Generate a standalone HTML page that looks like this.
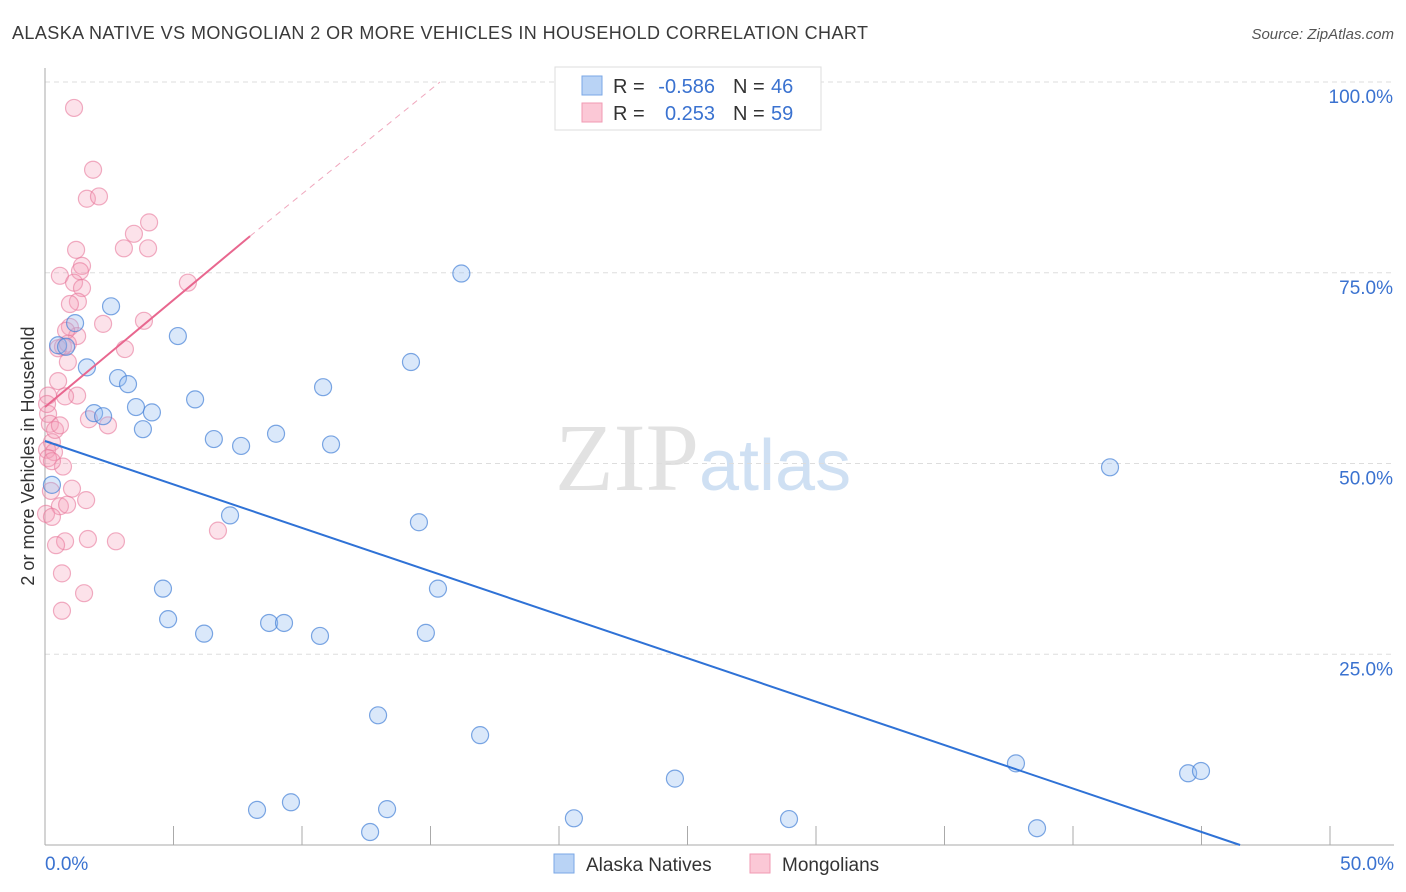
<!DOCTYPE html>
<html><head><meta charset="utf-8"><style>
body{margin:0;background:#fff;font-family:"Liberation Sans",sans-serif}
</style></head><body>
<svg id="c" width="1406" height="892" xmlns="http://www.w3.org/2000/svg" style="display:block">
<text x="12" y="39" font-size="18" fill="#3a3a3a" textLength="856">ALASKA NATIVE VS MONGOLIAN 2 OR MORE VEHICLES IN HOUSEHOLD CORRELATION CHART</text>
<text x="1394" y="39" font-size="15" fill="#555" text-anchor="end" font-style="italic">Source: ZipAtlas.com</text>
<text x="555" y="490" font-size="96" fill="#d6d6d6" font-family="Liberation Serif" opacity="0.7">ZIP<tspan fill="#bcd4ef" font-family="Liberation Sans" font-size="72">atlas</tspan></text>
<g id="grid"></g><g id="pts"></g><g id="lines"></g>
<text transform="translate(34,456) rotate(-90)" font-size="18" fill="#333" text-anchor="middle">2 or more Vehicles in Household</text>
<g>
<rect x="555" y="67" width="266" height="63" fill="#fff" stroke="#ddd"/>
<rect x="582" y="76" width="20" height="19" fill="#b9d3f5" stroke="#7aa7e6"/>
<rect x="582" y="103" width="20" height="19" fill="#fbc8d6" stroke="#f09ab3"/>
<text x="613" y="93" font-size="20" fill="#333">R =</text>
<text x="715" y="93" font-size="20" fill="#3a72d0" text-anchor="end">-0.586</text>
<text x="733" y="93" font-size="20" fill="#333">N =</text>
<text x="771" y="93" font-size="20" fill="#3a72d0">46</text>
<text x="613" y="120" font-size="20" fill="#333">R =</text>
<text x="715" y="120" font-size="20" fill="#3a72d0" text-anchor="end">0.253</text>
<text x="733" y="120" font-size="20" fill="#333">N =</text>
<text x="771" y="120" font-size="20" fill="#3a72d0">59</text>
</g>
<g>
<rect x="554" y="854" width="20" height="19" fill="#b9d3f5" stroke="#7aa7e6"/>
<text x="586" y="871" font-size="19" fill="#333">Alaska Natives</text>
<rect x="750" y="854" width="20" height="19" fill="#fbc8d6" stroke="#f09ab3"/>
<text x="782" y="871" font-size="19" fill="#333">Mongolians</text>
</g>
</svg>
<script>
const xTicks=[0,5,10,15,20,25,30,35,40,45,50];
const yTicks=[25,50,75,100];
const yTickLabels=["25.0%","50.0%","75.0%","100.0%"];
const blueX=[16.2,2.57,1.17,5.17,0.51,0.82,1.63,14.24,2.84,3.23,10.82,5.84,3.54,1.91,2.26,4.16,11.13,3.81,8.99,6.57,7.63,41.44,7.2,14.55,0.27,4.59,15.29,4.79,6.19,8.72,9.3,10.7,14.82,12.96,16.93,37.78,24.51,44.48,44.98,8.25,9.57,13.31,12.65,20.58,28.95,38.6];
const blueY=[74.9,70.6,68.4,66.7,65.5,65.3,62.6,63.3,61.2,60.4,60.0,58.4,57.4,56.6,56.2,56.7,52.5,54.5,53.9,53.2,52.3,49.5,43.2,42.3,47.2,33.6,33.6,29.6,27.7,29.1,29.1,27.4,27.8,17.0,14.4,10.7,8.7,9.4,9.7,4.6,5.6,4.7,1.7,3.5,3.4,2.2];
const pinkX=[1.13,1.87,1.63,2.1,4.05,3.46,3.07,4.01,1.21,1.44,1.36,0.58,1.13,5.56,1.44,1.28,0.97,3.85,2.26,0.97,1.25,0.82,0.51,0.7,3.11,0.89,0.51,0.12,1.25,0.78,0.12,1.71,2.45,0.19,0.27,0.08,0.35,0.12,0.7,0.23,1.05,1.6,0.58,0.86,0.04,6.73,1.67,2.76,0.78,0.43,0.66,1.52,0.66,0.27,0.89,0.08,0.39,0.27,0.58];
const pinkY=[96.6,88.5,84.7,85.0,81.6,80.1,78.2,78.2,78.0,75.9,75.2,74.6,73.7,73.7,73.0,71.2,70.9,68.7,68.3,67.9,66.7,67.4,65.1,65.3,65.0,63.3,60.8,58.9,58.9,58.8,56.5,55.8,55.0,55.2,52.8,51.8,51.5,50.7,49.6,46.4,46.7,45.2,44.4,44.6,43.4,41.2,40.1,39.8,39.8,39.3,35.6,33.0,30.7,43.0,65.7,57.8,54.4,50.3,55.0];
const blueLine=[[0,52.95],[46.5,0]];
const pinkSolid=[[0,57.4],[7.98,79.8]];
const pinkDash=[[7.98,79.8],[15.37,100]];
const X=v=>45+v/50*1285, Y=v=>845-v/100*763;
const NS="http://www.w3.org/2000/svg";
function mk(tag,attrs,parent){const e=document.createElementNS(NS,tag);for(const k in attrs)e.setAttribute(k,attrs[k]);parent.appendChild(e);return e;}
const gridG=document.getElementById('grid');
yTicks.forEach((t,i)=>{
 const l=mk('line',{x1:45,x2:1394,y1:Y(t),y2:Y(t),stroke:'#ddd','stroke-dasharray':'5,4'},gridG);
 
 
 const tx=mk('text',{x:1393,y:Y(t)+21,'font-size':19,fill:'#3a72d0','text-anchor':'end'},gridG);
 tx.textContent=yTickLabels[i];
 
 
});
const ya=mk('line',{x1:45,x2:45,y1:68,y2:845,stroke:'#aaa'},gridG);


const xa=mk('line',{x1:45,x2:1394,y1:845,y2:845,stroke:'#aaa'},gridG);


xTicks.forEach(t=>{if(t===0)return;
 const l=mk('line',{x1:X(t),x2:X(t),y1:826,y2:845,stroke:'#aaa'},gridG);
 
 
});
const xl0=mk('text',{x:45,y:870,'font-size':19,fill:'#3a72d0'},gridG);xl0.textContent='0.0%';


const xl1=mk('text',{x:1394,y:870,'font-size':19,fill:'#3a72d0','text-anchor':'end'},gridG);xl1.textContent='50.0%';


const ptsG=document.getElementById('pts');
pinkX.forEach((v,i)=>{const c=mk('circle',{cx:X(v),cy:Y(pinkY[i]),r:8.5,fill:'rgba(246,160,186,0.3)',stroke:'rgba(232,120,155,0.6)','stroke-width':1.2},ptsG);
 
 });
blueX.forEach((v,i)=>{const c=mk('circle',{cx:X(v),cy:Y(blueY[i]),r:8.5,fill:'rgba(150,190,240,0.35)',stroke:'rgba(70,130,215,0.7)','stroke-width':1.2},ptsG);
 
 });
const linesG=document.getElementById('lines');
const bl=mk('line',{x1:X(blueLine[0][0]),y1:Y(blueLine[0][1]),x2:X(blueLine[1][0]),y2:Y(blueLine[1][1]),stroke:'#2f72d6','stroke-width':2},linesG);


const ps=mk('line',{x1:X(pinkSolid[0][0]),y1:Y(pinkSolid[0][1]),x2:X(pinkSolid[1][0]),y2:Y(pinkSolid[1][1]),stroke:'#e8678f','stroke-width':2},linesG);


const pd=mk('line',{x1:X(pinkDash[0][0]),y1:Y(pinkDash[0][1]),x2:X(pinkDash[1][0]),y2:Y(pinkDash[1][1]),stroke:'#f0a7bd','stroke-width':1,'stroke-dasharray':'6,5'},linesG);


</script>
</body></html>
